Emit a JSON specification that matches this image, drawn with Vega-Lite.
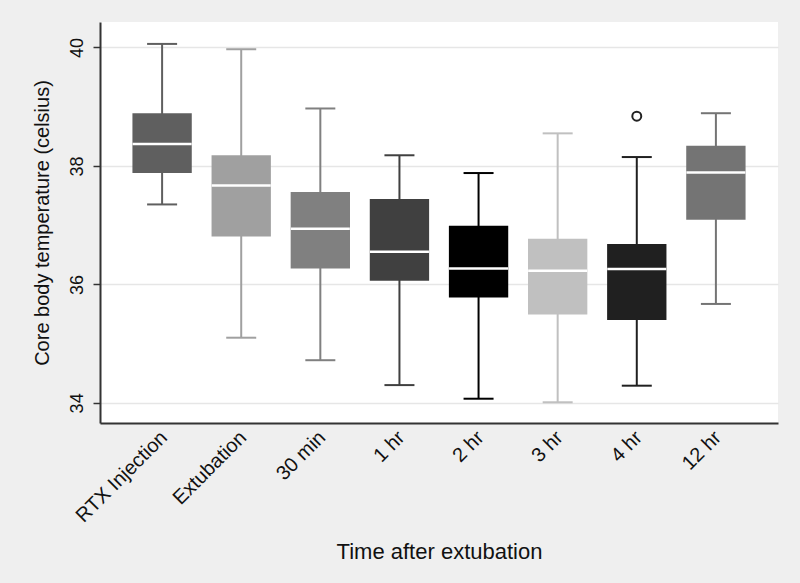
{
  "$schema": "https://vega.github.io/schema/vega-lite/v6.json",
  "autosize": "none",
  "width": 678,
  "height": 401,
  "padding": {"left": 100, "top": 22, "right": 22, "bottom": 160},
  "background": "#efefef",
  "config": {
    "view": {"fill": "white", "stroke": null},
    "font": "Liberation Sans"
  },
  "datasets": {
    "stats": [
      {"time": "RTX Injection", "lower": 37.35, "q1": 37.88, "median": 38.37, "q3": 38.89, "upper": 40.06},
      {"time": "Extubation", "lower": 35.10, "q1": 36.81, "median": 37.67, "q3": 38.18, "upper": 39.97},
      {"time": "30 min", "lower": 34.72, "q1": 36.27, "median": 36.94, "q3": 37.56, "upper": 38.97},
      {"time": "1 hr", "lower": 34.30, "q1": 36.06, "median": 36.55, "q3": 37.44, "upper": 38.18},
      {"time": "2 hr", "lower": 34.07, "q1": 35.78, "median": 36.27, "q3": 36.99, "upper": 37.88},
      {"time": "3 hr", "lower": 34.01, "q1": 35.49, "median": 36.23, "q3": 36.77, "upper": 38.55},
      {"time": "4 hr", "lower": 34.29, "q1": 35.40, "median": 36.26, "q3": 36.68, "upper": 38.15},
      {"time": "12 hr", "lower": 35.67, "q1": 37.09, "median": 37.89, "q3": 38.34, "upper": 38.89}
    ],
    "outliers": [
      {"time": "4 hr", "value": 38.84}
    ]
  },
  "data": {"name": "stats"},
  "encoding": {
    "x": {
      "field": "time",
      "type": "nominal",
      "sort": ["RTX Injection", "Extubation", "30 min", "1 hr", "2 hr", "3 hr", "4 hr", "12 hr"],
      "scale": {"paddingInner": 0.25, "paddingOuter": 0.41},
      "axis": {
        "title": "Time after extubation",
        "titleFontSize": 22,
        "titleFontWeight": "normal",
        "titleColor": "#111",
        "titlePadding": 16,
        "labelAngle": -45,
        "labelAlign": "right",
        "labelBaseline": "top",
        "labelFontSize": 20,
        "labelColor": "#111",
        "labelPadding": 4,
        "labelOffset": -5,
        "ticks": false,
        "grid": false,
        "domainColor": "#333",
        "domainWidth": 2
      }
    }
  },
  "layer": [
    {
      "mark": {"type": "rule", "strokeWidth": 2},
      "encoding": {
        "y": {
          "field": "lower",
          "type": "quantitative",
          "scale": {"domain": [33.66, 40.43], "nice": false, "zero": false},
          "axis": {
            "title": "Core body temperature (celsius)",
            "titleFontSize": 20,
            "titleFontWeight": "normal",
            "titleColor": "#111",
            "titlePadding": 16,
            "values": [34, 36, 38, 40],
            "format": "d",
            "labelAngle": -90,
            "labelAlign": "center",
            "labelBaseline": "bottom",
            "labelFontSize": 18,
            "labelColor": "#111",
            "labelPadding": 7,
            "tickSize": 7,
            "tickColor": "#333",
            "tickWidth": 1.5,
            "gridColor": "#e6e6e6",
            "gridWidth": 1.5,
            "domainColor": "#333",
            "domainWidth": 2
          }
        },
        "y2": {"field": "upper"},
        "color": {
          "field": "time",
          "type": "nominal",
          "sort": ["RTX Injection", "Extubation", "30 min", "1 hr", "2 hr", "3 hr", "4 hr", "12 hr"],
          "scale": {"range": ["#5f5f5f", "#a0a0a0", "#808080", "#404040", "#000000", "#c0c0c0", "#202020", "#747474"]},
          "legend": null
        }
      }
    },
    {
      "mark": {"type": "tick", "size": 30, "thickness": 2, "opacity": 1},
      "encoding": {
        "y": {"field": "upper", "type": "quantitative"},
        "color": {"field": "time", "type": "nominal", "sort": ["RTX Injection", "Extubation", "30 min", "1 hr", "2 hr", "3 hr", "4 hr", "12 hr"], "legend": null}
      }
    },
    {
      "mark": {"type": "tick", "size": 30, "thickness": 2, "opacity": 1},
      "encoding": {
        "y": {"field": "lower", "type": "quantitative"},
        "color": {"field": "time", "type": "nominal", "sort": ["RTX Injection", "Extubation", "30 min", "1 hr", "2 hr", "3 hr", "4 hr", "12 hr"], "legend": null}
      }
    },
    {
      "mark": {"type": "bar", "width": {"band": 1}, "opacity": 1},
      "encoding": {
        "y": {"field": "q1", "type": "quantitative"},
        "y2": {"field": "q3"},
        "color": {"field": "time", "type": "nominal", "sort": ["RTX Injection", "Extubation", "30 min", "1 hr", "2 hr", "3 hr", "4 hr", "12 hr"], "legend": null}
      }
    },
    {
      "mark": {"type": "tick", "size": 59, "thickness": 2.5, "color": "white", "opacity": 1},
      "encoding": {
        "y": {"field": "median", "type": "quantitative"}
      }
    },
    {
      "data": {"name": "outliers"},
      "mark": {"type": "point", "shape": "circle", "size": 80, "filled": false, "stroke": "#222", "strokeWidth": 2, "opacity": 1},
      "encoding": {
        "y": {"field": "value", "type": "quantitative"}
      }
    }
  ]
}
